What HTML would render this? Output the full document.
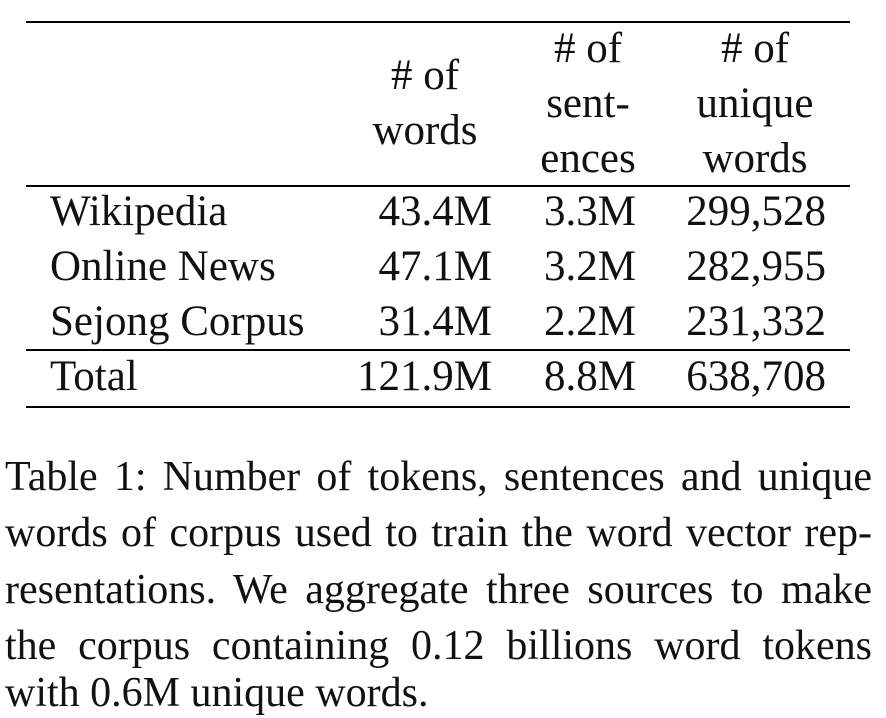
<!DOCTYPE html>
<html><head><meta charset="utf-8"><style>
body{margin:0;width:886px;height:714px;background:#fff;position:relative;overflow:hidden;font-family:"Liberation Serif",serif;color:#111;}
.t{position:absolute;font-size:43px;line-height:40px;white-space:nowrap;}
.r{text-align:right;}
.c{text-align:center;}
.rule{position:absolute;left:26px;width:824px;background:#000;}
.cl{position:absolute;left:5px;width:867px;font-size:42px;line-height:50px;white-space:nowrap;text-align:justify;text-align-last:justify;}
</style></head><body>
<div class="rule" style="top:21px;height:2px"></div>
<div class="t c" style="left:350px;width:150px;top:48px;line-height:55px">#&nbsp;of<br>words</div>
<div class="t c" style="left:510px;width:156px;top:21px;line-height:55px">#&nbsp;of<br>sent-<br>ences</div>
<div class="t c" style="left:680px;width:150px;top:21px;line-height:55px">#&nbsp;of<br>unique<br>words</div>
<div class="rule" style="top:185px;height:1.5px"></div>

<div class="t" style="left:50px;top:192px">Wikipedia</div>
<div class="t r" style="left:300px;width:192px;top:192px">43.4M</div>
<div class="t r" style="left:500px;width:136px;top:192px">3.3M</div>
<div class="t r" style="left:650px;width:176px;top:192px">299,528</div>

<div class="t" style="left:50px;top:247px">Online News</div>
<div class="t r" style="left:300px;width:192px;top:247px">47.1M</div>
<div class="t r" style="left:500px;width:136px;top:247px">3.2M</div>
<div class="t r" style="left:650px;width:176px;top:247px">282,955</div>

<div class="t" style="left:50px;top:302px">Sejong Corpus</div>
<div class="t r" style="left:300px;width:192px;top:302px">31.4M</div>
<div class="t r" style="left:500px;width:136px;top:302px">2.2M</div>
<div class="t r" style="left:650px;width:176px;top:302px">231,332</div>

<div class="rule" style="top:349px;height:1.5px"></div>
<div class="t" style="left:50px;top:357px">Total</div>
<div class="t r" style="left:300px;width:192px;top:357px">121.9M</div>
<div class="t r" style="left:500px;width:136px;top:357px">8.8M</div>
<div class="t r" style="left:650px;width:176px;top:357px">638,708</div>
<div class="rule" style="top:406px;height:2px"></div>

<div>
<div class="cl" style="top:452px">Table 1: Number of tokens, sentences and unique</div>
<div class="cl" style="top:508px">words of corpus used to train the word vector rep-</div>
<div class="cl" style="top:565px">resentations. We aggregate three sources to make</div>
<div class="cl" style="top:621px">the corpus containing 0.12 billions word tokens</div>
<div class="cl" style="top:668px;text-align:left;text-align-last:left">with 0.6M unique words.</div>
</div>
</body></html>
